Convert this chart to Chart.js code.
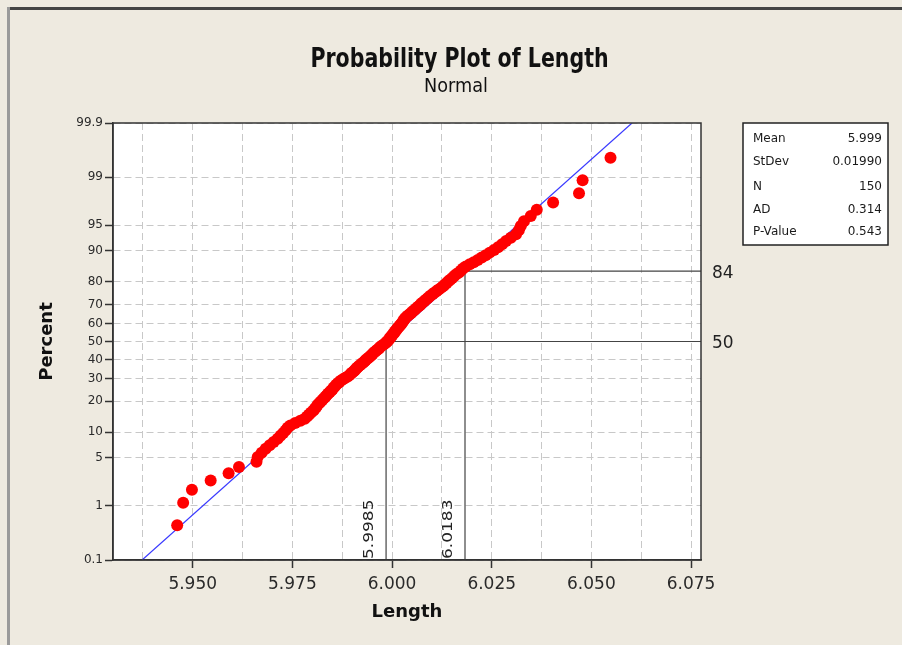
<!DOCTYPE html>
<html><head><meta charset="utf-8">
<script src="https://cdn.jsdelivr.net/npm/chart.js@4/dist/chart.umd.min.js"></script>
<style>html,body{margin:0;padding:0;background:#EEEAE0;}#wrap{width:902px;height:645px;}</style>
</head><body><div id="wrap"><canvas id="c" width="902" height="645"></canvas></div>
<script>
// ---------- data ----------
const lengths = [
5.9461,5.9476,5.9498,5.9545,5.9590,5.9616,5.9660,5.9663,5.9673,5.9683,
5.9693,5.9703,5.9713,5.9720,5.9727,5.9733,5.9738,5.9745,5.9757,5.9770,
5.9781,5.9787,5.9792,5.9797,5.9803,5.9806,5.9810,5.9813,5.9817,5.9821,
5.9825,5.9829,5.9833,5.9836,5.9840,5.9844,5.9848,5.9851,5.9854,5.9857,
5.9860,5.9864,5.9868,5.9872,5.9877,5.9883,5.9889,5.9893,5.9897,5.9900,
5.9904,5.9907,5.9910,5.9913,5.9916,5.9920,5.9924,5.9928,5.9931,5.9934,
5.9938,5.9942,5.9945,5.9948,5.9951,5.9954,5.9958,5.9961,5.9965,5.9968,
5.9971,5.9975,5.9979,5.9983,5.9986,5.9989,5.9992,5.9994,5.9996,5.9998,
6.0001,6.0003,6.0006,6.0007,6.0010,6.0012,6.0015,6.0017,6.0020,6.0022,
6.0025,6.0027,6.0029,6.0031,6.0033,6.0037,6.0040,6.0044,6.0048,6.0051,
6.0055,6.0058,6.0062,6.0066,6.0070,6.0073,6.0077,6.0081,6.0085,6.0089,
6.0093,6.0097,6.0102,6.0107,6.0112,6.0117,6.0123,6.0128,6.0132,6.0137,
6.0141,6.0146,6.0151,6.0156,6.0161,6.0168,6.0173,6.0178,6.0185,6.0195,
6.0205,6.0215,6.0225,6.0235,6.0245,6.0256,6.0266,6.0276,6.0286,6.0298,
6.0311,6.0318,6.0323,6.0331,6.0348,6.0363,6.0404,6.0469,6.0478,6.0548];
const percents = [
0.47,1.13,1.80,2.46,3.12,3.79,4.45,5.12,5.78,6.45,
7.11,7.78,8.44,9.11,9.77,10.44,11.10,11.77,12.43,13.10,
13.76,14.43,15.09,15.76,16.42,17.09,17.75,18.42,19.08,19.75,
20.41,21.08,21.74,22.41,23.07,23.74,24.40,25.07,25.73,26.40,
27.06,27.73,28.39,29.06,29.72,30.39,31.05,31.72,32.38,33.05,
33.71,34.38,35.04,35.71,36.37,37.03,37.70,38.36,39.03,39.69,
40.36,41.02,41.69,42.35,43.02,43.68,44.35,45.01,45.68,46.34,
47.01,47.67,48.34,49.00,49.67,50.33,51.00,51.66,52.33,52.99,
53.66,54.32,54.99,55.65,56.32,56.98,57.65,58.31,58.98,59.64,
60.31,60.97,61.64,62.30,62.97,63.63,64.29,64.96,65.62,66.29,
66.95,67.62,68.28,68.95,69.61,70.28,70.94,71.61,72.27,72.94,
73.60,74.27,74.93,75.60,76.26,76.93,77.59,78.26,78.92,79.59,
80.25,80.92,81.58,82.25,82.91,83.58,84.24,84.91,85.57,86.24,
86.90,87.57,88.23,88.90,89.56,90.23,90.89,91.56,92.22,92.89,
93.55,94.22,94.88,95.55,96.21,96.88,97.54,98.20,98.87,99.53];
const fitLineX = [5.9373, 6.0602];
const fitLinePct = [0.1, 99.9];
const refX = [5.9985, 6.0183];
const refPct = [50, 84];
const yTickPct = [0.1, 1, 5, 10, 20, 30, 40, 50, 60, 70, 80, 90, 95, 99, 99.9];
const yTickLabels = ['0.1','1','5','10','20','30','40','50','60','70','80','90','95','99','99.9'];
const xTickVals = [5.950, 5.975, 6.000, 6.025, 6.050, 6.075];
const xTickLabels = ['5.950','5.975','6.000','6.025','6.050','6.075'];
const xGridVals = [5.9375,5.950,5.9625,5.975,5.9875,6.000,6.0125,6.025,6.0375,6.050,6.0625,6.075];
const statLabels = ['Mean','StDev','N','AD','P-Value'];
const statValues = ['5.999','0.01990','150','0.314','0.543'];
const X_MIN = 5.930, X_MAX = 6.0775, P_MIN = 0.1, P_MAX = 99.9;

// ---------- normal probability scale ----------
function probit(p){
  const a=[-3.969683028665376e+01,2.209460984245205e+02,-2.759285104469687e+02,1.383577518672690e+02,-3.066479806614716e+01,2.506628277459239e+00];
  const b=[-5.447609879822406e+01,1.615858368580409e+02,-1.556989798598866e+02,6.680131188771972e+01,-1.328068155288572e+01];
  const c=[-7.784894002430293e-03,-3.223964580411365e-01,-2.400758277161838e+00,-2.549732539343734e+00,4.374664141464968e+00,2.938163982698783e+00];
  const d=[7.784695709041462e-03,3.224671290700398e-01,2.445134137142996e+00,3.754408661907416e+00];
  const pl=0.02425;
  if(p<pl){const q=Math.sqrt(-2*Math.log(p));return (((((c[0]*q+c[1])*q+c[2])*q+c[3])*q+c[4])*q+c[5])/((((d[0]*q+d[1])*q+d[2])*q+d[3])*q+1);}
  if(p>1-pl){const q=Math.sqrt(-2*Math.log(1-p));return -(((((c[0]*q+c[1])*q+c[2])*q+c[3])*q+c[4])*q+c[5])/((((d[0]*q+d[1])*q+d[2])*q+d[3])*q+1);}
  const q=p-0.5, r=q*q;
  return (((((a[0]*r+a[1])*r+a[2])*r+a[3])*r+a[4])*r+a[5])*q/(((((b[0]*r+b[1])*r+b[2])*r+b[3])*r+b[4])*r+1);
}
function normCdf(z){
  const t=1/(1+0.2316419*Math.abs(z));
  const y=t*(0.319381530+t*(-0.356563782+t*(1.781477937+t*(-1.821255978+t*1.330274429))));
  const v=1-Math.exp(-z*z/2)/Math.sqrt(2*Math.PI)*y;
  return z>=0?v:1-v;
}
class ProbitScale extends Chart.LinearScale {
  determineDataLimits(){ this.min = this.options.min; this.max = this.options.max; }
  buildTicks(){ return yTickPct.map(v => ({value: v})); }
  configure(){ super.configure(); this._zLo = probit(this.min/100); this._zHi = probit(this.max/100); }
  getPixelForValue(v){ return this.getPixelForDecimal((probit(v/100) - this._zLo)/(this._zHi - this._zLo)); }
  getValueForPixel(px){ const z = this._zLo + this.getDecimalForPixel(px)*(this._zHi - this._zLo); return 100*normCdf(z); }
}
ProbitScale.id = 'probit';
ProbitScale.defaults = {};
Chart.register(ProbitScale);

const FONT = '"DejaVu Sans", Verdana, sans-serif';
const isMajor = v => xTickVals.some(t => Math.abs(t - v) < 1e-6);

const decor = {
  id: 'decor',
  beforeDraw(chart){
    const ctx = chart.ctx, a = chart.chartArea;
    ctx.save();
    ctx.fillStyle = '#EEEAE0'; ctx.fillRect(0,0,chart.width,chart.height);
    ctx.fillStyle = '#444'; ctx.fillRect(7,7,chart.width-7,3);
    ctx.fillStyle = '#9a9a9a'; ctx.fillRect(7,7,3,chart.height-7);
    ctx.fillStyle = '#ffffff'; ctx.fillRect(a.left,a.top,a.right-a.left,a.bottom-a.top);
    ctx.restore();
  },
  afterDraw(chart){
    const ctx = chart.ctx, a = chart.chartArea;
    const xs = chart.scales.x, ys = chart.scales.y;
    ctx.save();
    // plot frame
    ctx.strokeStyle = '#333'; ctx.lineWidth = 1.5;
    ctx.strokeRect(a.left, a.top, a.right-a.left, a.bottom-a.top);
    // titles
    ctx.fillStyle = '#111';
    ctx.save(); ctx.translate(459.5, 67); ctx.scale(0.79, 1);
    ctx.font = 'bold 26px ' + FONT; ctx.textAlign = 'center'; ctx.textBaseline = 'alphabetic';
    ctx.fillText('Probability Plot of Length', 0, 0); ctx.restore();
    ctx.save(); ctx.translate(456, 92); ctx.scale(0.93, 1);
    ctx.font = '19px ' + FONT; ctx.textAlign = 'center';
    ctx.fillText('Normal', 0, 0); ctx.restore();
    // stats box
    ctx.fillStyle = '#fff'; ctx.fillRect(743, 123, 145, 122);
    ctx.strokeStyle = '#222'; ctx.lineWidth = 1.5; ctx.strokeRect(743, 123, 145, 122);
    ctx.fillStyle = '#1a1a1a'; ctx.font = '12px ' + FONT; ctx.textBaseline = 'middle';
    const rowsY = [139, 162, 186.5, 210, 232];
    statLabels.forEach((t,i) => { ctx.textAlign = 'left'; ctx.fillText(t, 753, rowsY[i]); });
    statValues.forEach((t,i) => { ctx.textAlign = 'right'; ctx.fillText(t, 882, rowsY[i]); });
    // reference labels
    ctx.fillStyle = '#222';
    refX.forEach((xv, k) => {
      const px = xs.getPixelForValue(xv), py = ys.getPixelForValue(refPct[k]);
      ctx.font = '17px ' + FONT; ctx.textAlign = 'left'; ctx.textBaseline = 'middle';
      ctx.fillText(String(refPct[k]), a.right + 11, py + 2);
      ctx.save(); ctx.translate(px - 13, a.bottom - 1); ctx.rotate(-Math.PI/2); ctx.scale(1, 0.85);
      ctx.font = '17px ' + FONT; ctx.textAlign = 'left'; ctx.textBaseline = 'alphabetic';
      ctx.fillText(xv.toFixed(4), 0, 0); ctx.restore();
    });
    ctx.restore();
  }
};

const pts = lengths.map((x, i) => ({x: x, y: percents[i]}));
const fit = fitLineX.map((x, i) => ({x: x, y: fitLinePct[i]}));
const refSets = refX.map((xv, k) => ({
  data: [{x: xv, y: P_MIN}, {x: xv, y: refPct[k]}, {x: X_MAX, y: refPct[k]}],
  showLine: true, borderColor: '#444', borderWidth: 1.2, pointRadius: 0, fill: false, order: 2
}));

new Chart(document.getElementById('c'), {
  type: 'scatter',
  data: { datasets: [
    { data: pts, backgroundColor: '#ff0000', borderWidth: 0, pointRadius: 6, order: 0 },
    { data: fit, showLine: true, borderColor: '#3a3aff', borderWidth: 1.2, pointRadius: 0, fill: false, order: 1 },
    ...refSets
  ]},
  options: {
    responsive: false, animation: false, devicePixelRatio: 1, events: [],
    layout: { padding: { left: 8, right: 201, top: 123, bottom: 10 } },
    plugins: { legend: { display: false }, tooltip: { enabled: false }, title: { display: false } },
    scales: {
      x: {
        type: 'linear', min: X_MIN, max: X_MAX, position: 'bottom',
        afterBuildTicks: s => { s.ticks = xGridVals.map(v => ({value: v})); },
        afterFit: s => { s.height = 75; },
        ticks: {
          autoSkip: false, maxRotation: 0, padding: 6, color: '#2a2a2a',
          font: { family: FONT, size: 17 },
          callback: v => { const i = xTickVals.findIndex(t => Math.abs(t - v) < 1e-6); return i >= 0 ? xTickLabels[i] : ''; }
        },
        grid: { color: '#c8c8c8', lineWidth: 1, tickLength: 8, tickWidth: 1.5, tickBorderDash: [],
                tickColor: c => (c.tick && isMajor(c.tick.value)) ? '#333' : 'rgba(0,0,0,0)' },
        border: { display: true, color: '#333', width: 1.5, dash: [7, 4] },
        title: { display: true, text: 'Length', color: '#111',
                 font: { family: FONT, size: 18, weight: 'bold', lineHeight: 1.2 }, padding: { top: 0, bottom: 12 } }
      },
      y: {
        type: 'probit', min: P_MIN, max: P_MAX, position: 'left',
        afterFit: s => { s.width = 105; },
        ticks: { autoSkip: false, padding: 2, color: '#2a2a2a', font: { family: FONT, size: 12 },
                 callback: (v, i) => yTickLabels[i] },
        grid: { color: '#c8c8c8', lineWidth: 1, tickLength: 8, tickWidth: 1.5, tickColor: '#333', tickBorderDash: [] },
        border: { display: true, color: '#333', width: 1.5, dash: [7, 4] },
        title: { display: true, text: 'Percent', color: '#111',
                 font: { family: FONT, size: 18, weight: 'bold', lineHeight: 1.2 }, padding: { top: 29, bottom: 0 } }
      }
    }
  },
  plugins: [decor]
});
</script>
</body></html>
